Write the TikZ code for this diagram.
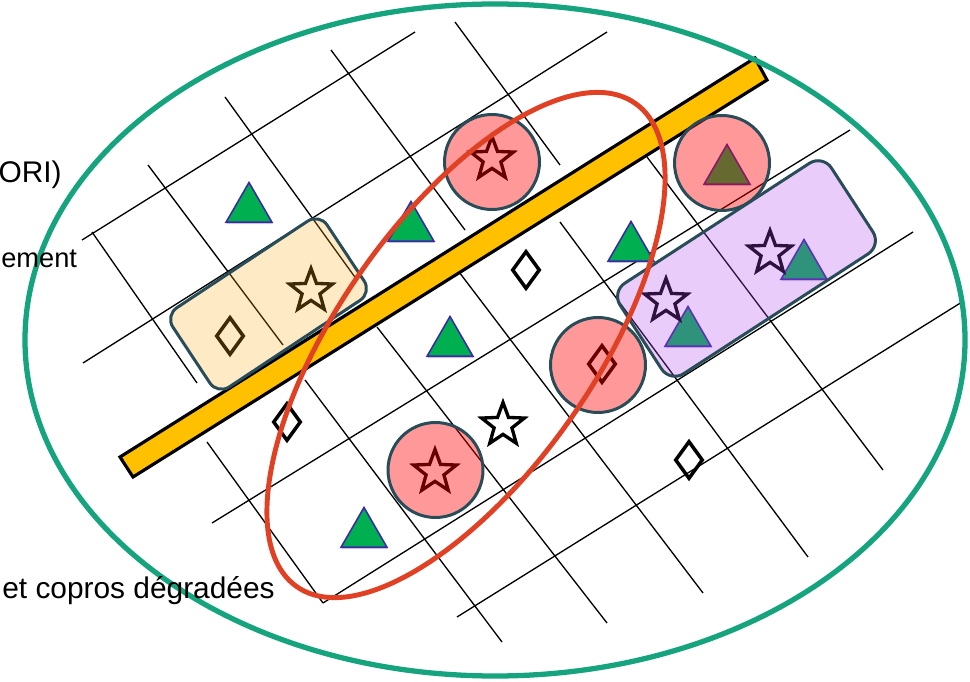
\documentclass[tikz,border=0pt]{standalone}
\usepackage{fontspec}
\setmainfont{Liberation Sans}
\usetikzlibrary{shapes.geometric,shadows}
\definecolor{ringGreen}{RGB}{22,164,126}
\definecolor{ringRed}{RGB}{224,64,36}
\definecolor{barYellow}{RGB}{255,192,0}
\definecolor{markGreen}{RGB}{0,176,80}
\definecolor{markEdge}{RGB}{60,40,170}
\definecolor{overlayEdge}{RGB}{40,76,88}
\definecolor{discRed}{RGB}{255,0,0}
\definecolor{boxOrange}{RGB}{250,170,25}
\definecolor{boxPurple}{RGB}{177,67,237}

\begin{document}
\begin{tikzpicture}[x=0.02cm,y=-0.02cm,
  gridLine/.style={line width=0.75pt,black},
  triMark/.style={regular polygon,regular polygon sides=3,minimum size=1.06cm,inner sep=0pt,
    fill=markGreen,draw=markEdge,line width=0.9pt,
    drop shadow={opacity=0.3,shadow xshift=0.4pt,shadow yshift=-1pt}},
  starMark/.style={star,star points=5,star point ratio=2.4,minimum size=0.9cm,inner sep=0pt,draw=black,line width=1.9pt},
  diamMark/.style={diamond,minimum width=0.56cm,minimum height=0.76cm,inner sep=0pt,draw=black,line width=2pt},
  discMark/.style={circle,minimum size=1.9cm,inner sep=0pt,fill=discRed,fill opacity=0.4,
    draw=overlayEdge,draw opacity=1,line width=1.7pt},
  zoneBox/.style={rectangle,inner sep=0pt,draw=overlayEdge,line width=1.7pt,fill opacity=0.27,draw opacity=1},
  labelText/.style={inner sep=0pt,font=\fontsize{17}{20}\selectfont}]
\useasboundingbox (0,0) rectangle (970,682);

\draw[gridLine] (92,232) -- (197,383)
  (148,165) -- (283,345)
  (225,97) -- (357,280)
  (331,50) -- (465,230)
  (455,22) -- (560,165)
  (456,268) -- (703,593)
  (647,157) -- (883,470)
  (560,222) -- (808,557)
  (207,442) -- (323,603)
  (305,380) -- (502,642)
  (377,327) -- (607,623);
\draw[gridLine] (82,240) -- (415,32)
  (83,363) -- (607,32)
  (212,523) -- (850,130)
  (323,603) -- (913,232)
  (457,617) -- (962,302);

\node[triMark] (triA) at (249,209) {};
\node[triMark] (triB) at (411,228) {};
\node[triMark] (triC) at (631,248) {};
\node[triMark] (triD) at (450,343) {};
\node[triMark] (triE) at (364,534) {};
\node[triMark] (triF) at (727,171) {};
\node[triMark] (triG) at (688,333) {};
\node[triMark] (triH) at (804,266) {};

\node[starMark] (starA) at (492,159) {};
\node[starMark] (starB) at (435,472) {};
\node[starMark] (starC) at (503,425) {};
\node[starMark] (starD) at (311,291) {};
\node[starMark] (starE) at (666,301) {};
\node[starMark] (starF) at (770,253) {};

\node[diamMark] (diamA) at (230,336) {};
\node[diamMark] (diamB) at (287,422) {};
\node[diamMark] (diamC) at (526,270) {};
\node[diamMark] (diamD) at (602,364) {};
\node[diamMark] (diamE) at (689,460) {};

\draw[line width=1.8pt,fill=barYellow] (120,457) -- (755,58) -- (767,80) -- (133,477) -- cycle;

\node[discMark] (discA) at (492,162) {};
\node[discMark] (discB) at (722,163) {};
\node[discMark] (discC) at (598,365) {};
\node[discMark] (discD) at (435.5,470) {};

\node[zoneBox,fill=boxOrange,fill opacity=0.25,rotate=33.5,minimum width=3.7cm,minimum height=1.9cm,rounded corners=0.28cm] (tanBox) at (268.5,304) {};
\node[zoneBox,fill=boxPurple,rotate=33,minimum width=5.04cm,minimum height=2.16cm,rounded corners=0.32cm] (lilacBox) at (746.5,268.5) {};

\draw[ringRed,line width=2.8pt] (466,345) ellipse [x radius=295, y radius=128, rotate=55];
\draw[ringGreen,line width=3pt] (495,340) ellipse [x radius=470, y radius=336];

\node[labelText,anchor=base east] (lblOri) at (62,183) {ORI)};
\node[labelText,anchor=base west,font=\fontsize{15.5}{18}\selectfont] (lblEment) at (1,268) {ement};
\node[labelText,anchor=base east] (lblCopros) at (275,598) {et copros dégradées};
\end{tikzpicture}
\end{document}
